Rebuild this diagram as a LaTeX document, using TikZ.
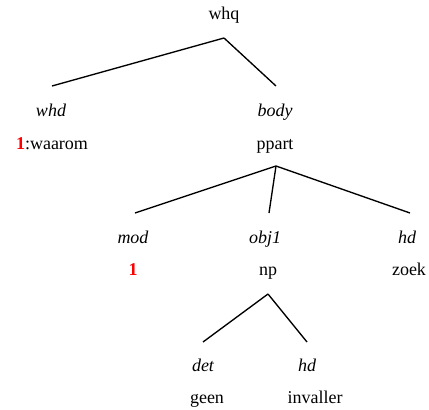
\documentclass[tikz,border=0pt]{standalone}
\usepackage{fontspec}
\setmainfont{Liberation Serif}
\usepackage{xcolor}
\usepackage{tikz}
\definecolor{idxred}{HTML}{FF0000}
\tikzset{
  rel/.style     = {font=\fontsize{18}{20}\selectfont\itshape, inner sep=0pt,
                    text height=0.7em, text depth=0.25em},
  cat/.style     = {font=\fontsize{18}{20}\selectfont, inner sep=0pt,
                    text height=0.7em, text depth=0.25em},
  branch/.style  = {line width=1.35pt, draw=black},
}

\begin{document}
\begin{tikzpicture}[x=1pt, y=-1pt]
  \useasboundingbox (0,0) rectangle (429,410);

  % ----- root -----
  \node[cat] (whq) at (224,17) {whq};
  \coordinate (whq-a) at (224,38);

  % ----- level 1 -----
  \coordinate (whd-t) at (52,86);
  \coordinate (body-t) at (276,86);
  \node[rel] (whd) at (51,114) {whd};
  \node[rel] (body) at (275,114) {body};
  \node[cat] (waarom) at (52,147) {\textcolor{idxred}{\bfseries 1}:waarom};
  \node[cat] (ppart) at (275,147) {ppart};
  \coordinate (ppart-a) at (276,166);

  \draw[branch] (whq-a) -- (whd-t);
  \draw[branch] (whq-a) -- (body-t);

  % ----- level 2 -----
  \coordinate (mod-t) at (135,213);
  \coordinate (obj-t) at (269,213);
  \coordinate (hd1-t) at (410,213);
  \node[rel] (mod) at (133,241) {mod};
  \node[rel] (obj) at (265,241) {obj1};
  \node[rel] (hd1) at (407,241) {hd};
  \node[cat] (modidx) at (133,273) {\textcolor{idxred}{\bfseries 1}};
  \node[cat] (np) at (268,273) {np};
  \node[cat] (zoek) at (409,273) {zoek};
  \coordinate (np-a) at (268,294);

  \draw[branch] (ppart-a) -- (mod-t);
  \draw[branch] (ppart-a) -- (obj-t);
  \draw[branch] (ppart-a) -- (hd1-t);

  % ----- level 3 -----
  \coordinate (det-t) at (203,342);
  \coordinate (hd2-t) at (307,342);
  \node[rel] (det) at (203,369) {det};
  \node[rel] (hd2) at (307,369) {hd};
  \node[cat] (geen) at (207,401) {geen};
  \node[cat] (invaller) at (315,401) {invaller};

  \draw[branch] (np-a) -- (det-t);
  \draw[branch] (np-a) -- (hd2-t);

\end{tikzpicture}
\end{document}
